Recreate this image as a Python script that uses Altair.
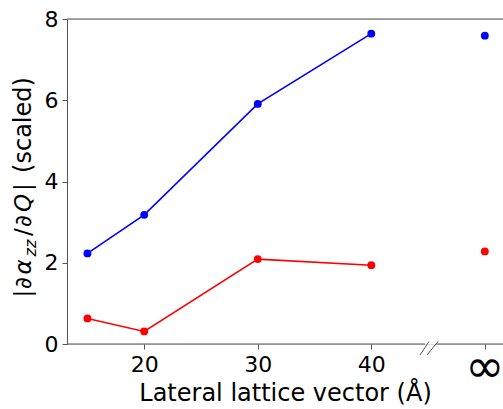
import altair as alt
import pandas as pd

# ---- data ----
lattice = [15, 20, 30, 40]
blue_vals = [2.23, 3.18, 5.91, 7.64]
red_vals = [0.63, 0.31, 2.09, 1.94]
inf_pos = 50          # position used for the "infinity" point on the x scale
blue_inf = 7.59
red_inf = 2.28
x_ticks = [20, 30, 40, 50]
y_ticks = [0, 2, 4, 6, 8]
series = ["blue", "red"]
colors = ["#0000ff", "#ff0000"]

FONT = "DejaVu Sans"
X_DOMAIN = [13.2, 51.6]
Y_DOMAIN = [0, 8]
W, H = 436, 325
SPINE = "#555555"

line_df = pd.DataFrame({
    "x": lattice * 2,
    "y": blue_vals + red_vals,
    "s": [series[0]] * len(lattice) + [series[1]] * len(lattice),
})
inf_df = pd.DataFrame({"x": [inf_pos, inf_pos], "y": [blue_inf, red_inf], "s": series})

xs = alt.Scale(domain=X_DOMAIN, nice=False, zero=False)
ys = alt.Scale(domain=Y_DOMAIN, nice=False, zero=False)
cs = alt.Scale(domain=series, range=colors)

x_enc = alt.X("x:Q", scale=xs, axis=alt.Axis(
    values=x_ticks, labelExpr="datum.value == 50 ? '' : datum.value",
    domain=False, grid=False, tickColor=SPINE, tickSize=5, tickWidth=1,
    labelFont=FONT, labelFontSize=22, labelColor="black", labelPadding=5,
    title="Lateral lattice vector (Å)", titleFont=FONT, titleFontSize=24,
    titleFontWeight="normal", titleColor="black", titlePadding=6))
y_enc = alt.Y("y:Q", scale=ys, axis=alt.Axis(
    values=y_ticks, domainColor=SPINE, domainWidth=1, tickColor=SPINE, tickSize=5,
    tickWidth=1, labelFont=FONT, labelFontSize=22, labelColor="black",
    labelPadding=4, grid=False, title=None))
c_enc = alt.Color("s:N", scale=cs, legend=None)

lines = alt.Chart(line_df).mark_line(strokeWidth=1.6).encode(x=x_enc, y=y_enc, color=c_enc)
pts = alt.Chart(line_df).mark_circle(size=62, opacity=1).encode(x="x:Q", y="y:Q", color=c_enc)
inf_pts = alt.Chart(inf_df).mark_circle(size=62, opacity=1).encode(x="x:Q", y="y:Q", color=c_enc)

# spines (top full, bottom broken) and break marks
def hrule(x0, x1, y):
    return alt.Chart().mark_rule(color=SPINE, strokeWidth=1).encode(
        x=alt.value(x0), x2=alt.value(x1), y=alt.value(y))

def seg(x0, y0, x1, y1):
    return alt.Chart().mark_rule(color=SPINE, strokeWidth=1).encode(
        x=alt.value(x0), x2=alt.value(x1), y=alt.value(y0), y2=alt.value(y1))

spines = [hrule(0, W, 0), hrule(0, 358, H), hrule(369, W, H),
          seg(353, 336, 362, 322.5), seg(360, 336, 371, 322.5)]

inf_label = alt.Chart().mark_text(text="∞", font=FONT, fontSize=47, baseline="middle",
                                  align="center", color="black").encode(
    x=alt.datum(inf_pos, scale=xs), y=alt.value(349))

# y-axis title pieces (rotated), mimicking |∂α_zz/∂Q| (scaled)
def ytxt(t, yc, xb=-36, size=23, style="normal"):
    return alt.Chart().mark_text(text=t, font=FONT, fontSize=size, fontStyle=style,
                                 angle=270, align="center", baseline="alphabetic",
                                 color="black").encode(x=alt.value(xb), y=alt.value(yc))

ytitle = [
    ytxt("|", 274.5), ytxt("∂", 264), ytxt("α", 248, style="italic"),
    ytxt("zz", 229, xb=-31, size=16, style="italic"), ytxt("/", 213),
    ytxt("∂", 202), ytxt("Q", 184, style="italic"), ytxt("|", 168),
    ytxt("(scaled)", 106, size=24),
]

chart = alt.layer(lines, pts, inf_pts, *spines, inf_label, *ytitle).properties(
    width=W, height=H,
    autosize=alt.AutoSizeParams(type="none"),
    padding={"left": 67, "top": 19, "right": 0, "bottom": 65},
).configure_view(stroke=None).configure(background="white")

chart.save("out.html", embed_options={"renderer": "svg", "actions": False})
